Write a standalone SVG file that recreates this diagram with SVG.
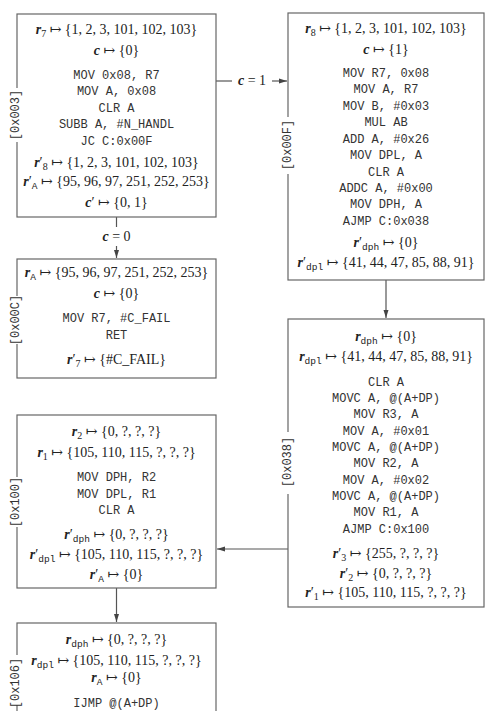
<svg xmlns="http://www.w3.org/2000/svg" width="491" height="711" viewBox="0 0 491 711">
<style>
.box{fill:#fff;stroke:#666;stroke-width:1.2}
.gap{fill:#fff;stroke:none}
.m{font-family:"Liberation Serif","DejaVu Serif",serif;font-size:14px;fill:#222;text-anchor:middle}
.v{font-weight:bold;font-style:italic}
.s{font-size:10px}
.ts{font-family:"Liberation Mono","DejaVu Sans Mono",monospace;font-size:9.5px}
.c{font-family:"Liberation Mono","DejaVu Sans Mono",monospace;font-size:12px;fill:#333;text-anchor:middle}
.lbl{font-family:"Liberation Mono","DejaVu Sans Mono",monospace;font-size:12px;fill:#333;text-anchor:middle;dominant-baseline:central}
.ln{stroke:#555;stroke-width:1.2;fill:none}
</style>
<defs>
<marker id="ah" viewBox="0 0 8 6" refX="8" refY="3" markerWidth="8" markerHeight="6" markerUnits="userSpaceOnUse" orient="auto">
<path d="M0,0.5 L8,3 L0,5.5 Z" fill="#444"/>
</marker>
</defs>

<g id="connectors">
<line class="ln" x1="216" y1="81" x2="232" y2="81"/>
<line class="ln" x1="272" y1="81" x2="287" y2="81" marker-end="url(#ah)"/>
<text class="m" x="252" y="85"><tspan class="v">c</tspan> = 1</text>
<line class="ln" x1="116.5" y1="217" x2="116.5" y2="227"/>
<text class="m" x="116.5" y="241"><tspan class="v">c</tspan> = 0</text>
<line class="ln" x1="116.5" y1="246" x2="116.5" y2="258" marker-end="url(#ah)"/>
<line class="ln" x1="386" y1="280" x2="386" y2="318" marker-end="url(#ah)"/>
<line class="ln" x1="288" y1="549" x2="217" y2="549" marker-end="url(#ah)"/>
<line class="ln" x1="116.5" y1="588" x2="116.5" y2="622" marker-end="url(#ah)"/>
</g>

<g id="n003">
<rect class="box" x="17" y="14" width="199" height="203"/>
<rect class="gap" x="10" y="88" width="14" height="54"/>
<text class="lbl" transform="translate(16,115) rotate(-90)">[0x003]</text>
<text class="m" x="116.5" y="34"><tspan class="v">r</tspan><tspan class="s" dy="3">7</tspan><tspan dy="-3"> ↦ {1, 2, 3, 101, 102, 103}</tspan></text>
<text class="m" x="116.5" y="55"><tspan class="v">c</tspan> ↦ {0}</text>
<text class="c" x="116.5" y="79">MOV 0x08, R7</text>
<text class="c" x="116.5" y="95">MOV A, 0x08</text>
<text class="c" x="116.5" y="112">CLR A</text>
<text class="c" x="116.5" y="128">SUBB A, #N_HANDL</text>
<text class="c" x="116.5" y="145">JC C:0x00F</text>
<text class="m" x="116.5" y="167"><tspan class="v">r</tspan>′<tspan class="s" dy="3">8</tspan><tspan dy="-3"> ↦ {1, 2, 3, 101, 102, 103}</tspan></text>
<text class="m" x="116.5" y="186"><tspan class="v">r</tspan>′<tspan class="ts" dy="3">A</tspan><tspan dy="-3"> ↦ {95, 96, 97, 251, 252, 253}</tspan></text>
<text class="m" x="116.5" y="207"><tspan class="v">c</tspan>′ ↦ {0, 1}</text>
</g>

<g id="n00F">
<rect class="box" x="288" y="13" width="196" height="267"/>
<rect class="gap" x="281" y="117" width="14" height="57"/>
<text class="lbl" transform="translate(288,145) rotate(-90)">[0x00F]</text>
<text class="m" x="386" y="33"><tspan class="v">r</tspan><tspan class="s" dy="3">8</tspan><tspan dy="-3"> ↦ {1, 2, 3, 101, 102, 103}</tspan></text>
<text class="m" x="386" y="54"><tspan class="v">c</tspan> ↦ {1}</text>
<text class="c" x="386" y="77">MOV R7, 0x08</text>
<text class="c" x="386" y="93">MOV A, R7</text>
<text class="c" x="386" y="110">MOV B, #0x03</text>
<text class="c" x="386" y="126">MUL AB</text>
<text class="c" x="386" y="143">ADD A, #0x26</text>
<text class="c" x="386" y="159">MOV DPL, A</text>
<text class="c" x="386" y="176">CLR A</text>
<text class="c" x="386" y="192">ADDC A, #0x00</text>
<text class="c" x="386" y="208">MOV DPH, A</text>
<text class="c" x="386" y="225">AJMP C:0x038</text>
<text class="m" x="386" y="247"><tspan class="v">r</tspan>′<tspan class="ts" dy="3">dph</tspan><tspan dy="-3"> ↦ {0}</tspan></text>
<text class="m" x="386" y="267"><tspan class="v">r</tspan>′<tspan class="ts" dy="3">dpl</tspan><tspan dy="-3"> ↦ {41, 44, 47, 85, 88, 91}</tspan></text>
</g>

<g id="n00C">
<rect class="box" x="17" y="259" width="199" height="119"/>
<rect class="gap" x="10" y="296" width="14" height="48"/>
<text class="lbl" transform="translate(16,320) rotate(-90)">[0x00C]</text>
<text class="m" x="116.5" y="277"><tspan class="v">r</tspan><tspan class="ts" dy="3">A</tspan><tspan dy="-3"> ↦ {95, 96, 97, 251, 252, 253}</tspan></text>
<text class="m" x="116.5" y="298"><tspan class="v">c</tspan> ↦ {0}</text>
<text class="c" x="116.5" y="322">MOV R7, #C_FAIL</text>
<text class="c" x="116.5" y="339">RET</text>
<text class="m" x="116.5" y="364"><tspan class="v">r</tspan>′<tspan class="s" dy="3">7</tspan><tspan dy="-3"> ↦ {#C_FAIL}</tspan></text>
</g>

<g id="n038">
<rect class="box" x="288" y="319" width="196" height="288"/>
<rect class="gap" x="281" y="432" width="14" height="62"/>
<text class="lbl" transform="translate(288,462) rotate(-90)">[0x038]</text>
<text class="m" x="386" y="341"><tspan class="v">r</tspan><tspan class="ts" dy="3">dph</tspan><tspan dy="-3"> ↦ {0}</tspan></text>
<text class="m" x="386" y="361"><tspan class="v">r</tspan><tspan class="ts" dy="3">dpl</tspan><tspan dy="-3"> ↦ {41, 44, 47, 85, 88, 91}</tspan></text>
<text class="c" x="386" y="386">CLR A</text>
<text class="c" x="386" y="402">MOVC A, @(A+DP)</text>
<text class="c" x="386" y="418">MOV R3, A</text>
<text class="c" x="386" y="435">MOV A, #0x01</text>
<text class="c" x="386" y="451">MOVC A, @(A+DP)</text>
<text class="c" x="386" y="467">MOV R2, A</text>
<text class="c" x="386" y="484">MOV A, #0x02</text>
<text class="c" x="386" y="500">MOVC A, @(A+DP)</text>
<text class="c" x="386" y="516">MOV R1, A</text>
<text class="c" x="386" y="533">AJMP C:0x100</text>
<text class="m" x="386" y="558"><tspan class="v">r</tspan>′<tspan class="s" dy="3">3</tspan><tspan dy="-3"> ↦ {255, ?, ?, ?}</tspan></text>
<text class="m" x="386" y="578"><tspan class="v">r</tspan>′<tspan class="s" dy="3">2</tspan><tspan dy="-3"> ↦ {0, ?, ?, ?}</tspan></text>
<text class="m" x="386" y="597"><tspan class="v">r</tspan>′<tspan class="s" dy="3">1</tspan><tspan dy="-3"> ↦ {105, 110, 115, ?, ?, ?}</tspan></text>
</g>

<g id="n100">
<rect class="box" x="17" y="415" width="199" height="173"/>
<rect class="gap" x="10" y="477" width="14" height="50"/>
<text class="lbl" transform="translate(16,502) rotate(-90)">[0x100]</text>
<text class="m" x="116.5" y="436"><tspan class="v">r</tspan><tspan class="s" dy="3">2</tspan><tspan dy="-3"> ↦ {0, ?, ?, ?}</tspan></text>
<text class="m" x="116.5" y="457"><tspan class="v">r</tspan><tspan class="s" dy="3">1</tspan><tspan dy="-3"> ↦ {105, 110, 115, ?, ?, ?}</tspan></text>
<text class="c" x="116.5" y="481">MOV DPH, R2</text>
<text class="c" x="116.5" y="498">MOV DPL, R1</text>
<text class="c" x="116.5" y="514">CLR A</text>
<text class="m" x="116.5" y="539"><tspan class="v">r</tspan>′<tspan class="ts" dy="3">dph</tspan><tspan dy="-3"> ↦ {0, ?, ?, ?}</tspan></text>
<text class="m" x="116.5" y="559"><tspan class="v">r</tspan>′<tspan class="ts" dy="3">dpl</tspan><tspan dy="-3"> ↦ {105, 110, 115, ?, ?, ?}</tspan></text>
<text class="m" x="116.5" y="579"><tspan class="v">r</tspan>′<tspan class="ts" dy="3">A</tspan><tspan dy="-3"> ↦ {0}</tspan></text>
</g>

<g id="n106">
<rect class="box" x="17" y="623" width="199" height="100"/>
<rect class="gap" x="10" y="655" width="14" height="50"/>
<text class="lbl" transform="translate(16,683) rotate(-90)">[0x106]</text>
<text class="m" x="116.5" y="644"><tspan class="v">r</tspan><tspan class="ts" dy="3">dph</tspan><tspan dy="-3"> ↦ {0, ?, ?, ?}</tspan></text>
<text class="m" x="116.5" y="665"><tspan class="v">r</tspan><tspan class="ts" dy="3">dpl</tspan><tspan dy="-3"> ↦ {105, 110, 115, ?, ?, ?}</tspan></text>
<text class="m" x="116.5" y="682"><tspan class="v">r</tspan><tspan class="ts" dy="3">A</tspan><tspan dy="-3"> ↦ {0}</tspan></text>
<text class="c" x="116.5" y="707">IJMP @(A+DP)</text>
</g>
</svg>
